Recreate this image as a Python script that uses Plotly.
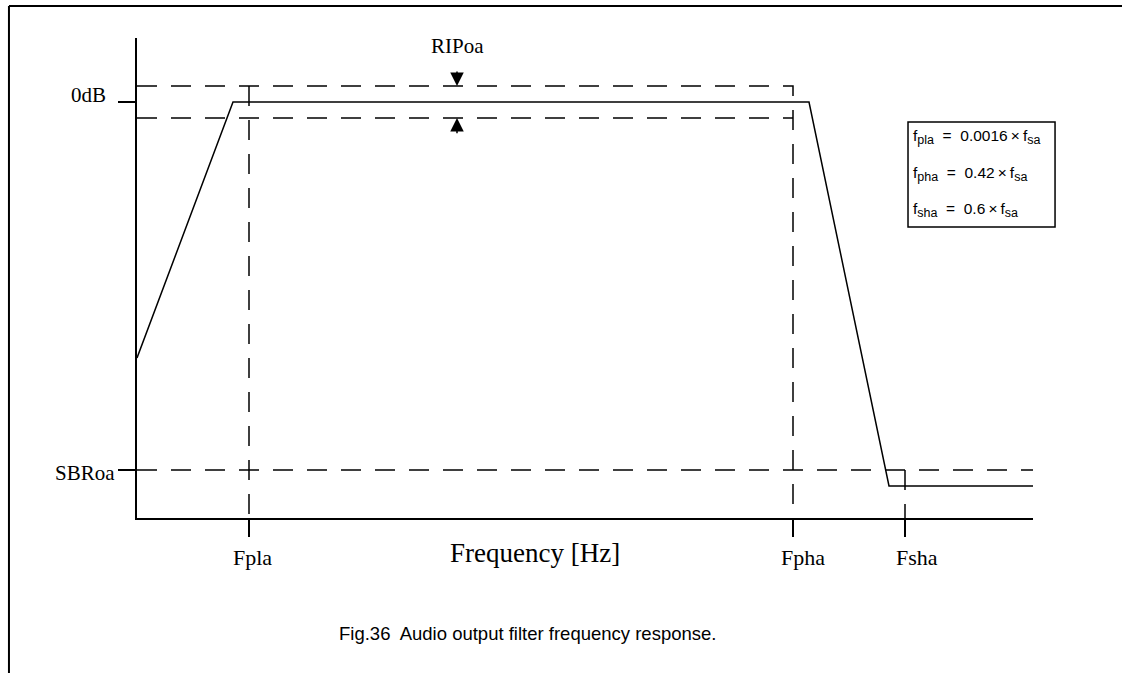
import plotly.graph_objects as go

# schematic values (arbitrary frequency units, dB)
resp_freq = [0, 12, 84, 94, 112]
resp_db = [-32, 0, 0, -48, -48]
ripple_db = 2
sbr_db = -46
edge_freqs = [14, 82, 96]
edge_names = ["Fpla", "Fpha", "Fsha"]
level_vals = [0, sbr_db]
level_names = ["0dB", "SBRoa"]
formula_names = ["pla", "pha", "sha"]
formula_factors = ["0.0016", "0.42", "0.6"]
x_range = [0, 112]
y_range = [-52, 8]

SERIF = "Liberation Serif, Times New Roman, serif"
SANS = "Liberation Sans, Arial, sans-serif"
DASH = "20px,14px"

def sub(s):
    return f"<sub><span style='font-size:12.5px'>{s}</span></sub>"

formulas = [
    f"f{sub(name)}\u00a0 = \u00a0{factor}\u2009×\u2009f{sub('sa')}"
    for name, factor in zip(formula_names, formula_factors)
]

fig = go.Figure()

def dashed(x, y):
    fig.add_trace(go.Scatter(
        x = x, y = y, mode = "lines", showlegend = False, hoverinfo = "skip",
        line = dict(color = "black", width = 1.5, dash = DASH), cliponaxis = False,
    ))

# ripple band
dashed([x_range[0], edge_freqs[1], edge_freqs[1]], [ripple_db, ripple_db, y_range[0]])
dashed([x_range[0], edge_freqs[1]], [-ripple_db, -ripple_db])
dashed([edge_freqs[0], edge_freqs[0]], [ripple_db, y_range[0]])
# stop band
dashed([x_range[0], x_range[1]], [sbr_db, sbr_db])
dashed([edge_freqs[2], edge_freqs[2]], [sbr_db, y_range[0]])

# response
fig.add_trace(go.Scatter(
    x = resp_freq, y = resp_db, mode = "lines", showlegend = False, hoverinfo = "skip",
    line = dict(color = "black", width = 1.5), cliponaxis = False,
))

fig.update_xaxes(
    range = x_range, showgrid = False, zeroline = False,
    showline = True, linecolor = "black", linewidth = 1.5,
    tickvals = edge_freqs, ticks = "outside", showticklabels = False,
    ticklen = 17, tickwidth = 1.5, tickcolor = "black",
)
fig.update_yaxes(
    range = y_range, showgrid = False, zeroline = False,
    showline = True, linecolor = "black", linewidth = 1.5,
    tickvals = level_vals, ticks = "outside", showticklabels = False,
    ticklen = 17, tickwidth = 1.5, tickcolor = "black",
)

label_font = dict(family = SERIF, size = 21, color = "black")

# tick labels placed as in the drawing
for name, val, xr, ys in zip(level_names, level_vals, [-0.0324, -0.0223], [7, -3]):
    fig.add_annotation(x = xr, y = val, xref = "paper", yref = "y", yshift = ys,
        xanchor = "right", yanchor = "middle", text = name, showarrow = False, font = label_font)
for name, val, xs in zip(edge_names, edge_freqs, [3, 10, 12]):
    fig.add_annotation(x = val, y = -0.08125, xref = "x", yref = "paper", xshift = xs,
        xanchor = "center", yanchor = "middle", text = name, showarrow = False,
        font = dict(family = SERIF, size = 22, color = "black"))

# RIPoa arrows + label
arrow_x = 40
for tip, tail in [(ripple_db, ripple_db + 2), (-ripple_db, -ripple_db - 2.1)]:
    fig.add_annotation(
        x = arrow_x, y = tip, ax = arrow_x, ay = tail, axref = "x", ayref = "y",
        xref = "x", yref = "y", text = "", showarrow = True,
        arrowhead = 2, arrowsize = 1.8, arrowwidth = 1.5, arrowcolor = "black",
    )
fig.add_annotation(x = arrow_x, y = 6.94, xref = "x", yref = "y", text = "RIPoa",
    xanchor = "center", yanchor = "middle", showarrow = False, font = label_font)

# formula box
fig.add_shape(type = "rect", xref = "paper", yref = "paper",
    x0 = 0.8605, x1 = 1.0246, y0 = 0.60625, y1 = 0.825,
    line = dict(color = "black", width = 1.5))
for text, yy in zip(formulas, [0.79375, 0.7167, 0.6417]):
    fig.add_annotation(x = 0.8638, y = yy, xref = "paper", yref = "paper",
        xanchor = "left", yanchor = "middle", text = text, showarrow = False,
        font = dict(family = SANS, size = 15.5, color = "black"))

# axis caption and figure caption
fig.add_annotation(x = 0.4442, y = -0.0729, xref = "paper", yref = "paper",
    xanchor = "center", yanchor = "middle",
    text = "Frequency [Hz]", showarrow = False,
    font = dict(family = SERIF, size = 27, color = "black"))
fig.add_annotation(x = 0.4358, y = -0.2396, xref = "paper", yref = "paper",
    xanchor = "center", yanchor = "middle",
    text = "Fig.36  Audio output filter frequency response.", showarrow = False,
    font = dict(family = SANS, size = 18.5, color = "black"))

# page frame (top and left edges)
fig.add_shape(type = "line", xref = "paper", yref = "paper",
    x0 = -0.1429, x1 = 1.12, y0 = 1.0667, y1 = 1.0667, line = dict(color = "black", width = 2))
fig.add_shape(type = "line", xref = "paper", yref = "paper",
    x0 = -0.1429, x1 = -0.1429, y0 = 1.0667, y1 = -0.35, line = dict(color = "black", width = 2))

fig.update_layout(
    width = 1122, height = 673,
    margin = dict(l = 137, r = 89, t = 38, b = 155),
    plot_bgcolor = "white", paper_bgcolor = "white",
    font = dict(family = SERIF, color = "black"),
)

fig.write_html("out.html", config = {"displayModeBar": False},
    post_script = "document.body.style.margin = '0';")
